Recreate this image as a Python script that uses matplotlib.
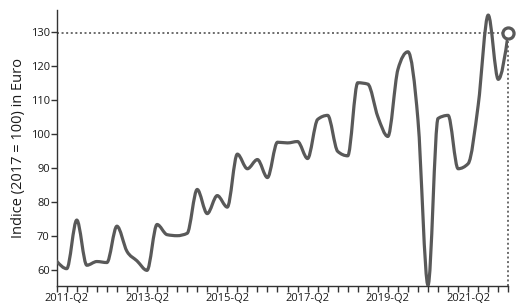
import numpy as np
import matplotlib
matplotlib.use("Agg")
import matplotlib.pyplot as plt
from matplotlib.path import Path
from matplotlib.patches import PathPatch

years = list(range(2011, 2023))
quarters = [f"{y}-Q{q}" for y in years for q in (1, 2, 3, 4)][:46]

values = [62.7, 60.5, 74.8, 61.5, 62.6, 62.3, 73.0, 65.6, 62.8, 60.0,
          73.5, 70.5, 70.2, 70.9, 83.8, 76.7, 82.0, 78.6, 94.2, 89.9,
          92.6, 87.3, 97.7, 97.5, 97.9, 92.9, 104.4, 105.6, 95.0, 93.7,
          115.2, 114.8, 105.2, 99.4, 119.1, 124.3, 104.2, 55.6, 104.7, 105.6,
          89.9, 91.4, 108.6, 135.1, 116.2, 129.8]

ytick_values = [60, 70, 80, 90, 100, 110, 120, 130]
label_every = 8
label_start = 1

LINE = "#595959"
AX = "#333333"
GUIDE = "#444444"
TXT = "#1a1a1a"

plt.rcParams['font.family'] = ['Open Sans', 'DejaVu Sans']

fig = plt.figure(figsize=(5.24, 3.06), dpi=100)
ax = fig.add_axes([56.7/524, 20/306, (508.3-56.7)/524, (286-10)/306])

x = np.arange(len(values), dtype=float)
y = np.array(values, dtype=float)

# monotone-X cubic curve (like d3.curveMonotoneX)
n = len(x)
h = np.diff(x)
s = np.diff(y) / h
t = np.zeros(n)
for i in range(1, n - 1):
    p = (s[i-1]*h[i] + s[i]*h[i-1]) / (h[i-1] + h[i])
    t[i] = (np.sign(s[i-1]) + np.sign(s[i])) * min(abs(s[i-1]), abs(s[i]), 0.5*abs(p))
t[0] = (3*s[0] - t[1]) / 2
t[-1] = (3*s[-1] - t[-2]) / 2
verts = [(x[0], y[0])]
codes = [Path.MOVETO]
for i in range(n - 1):
    dx = (x[i+1] - x[i]) / 3
    verts += [(x[i] + dx, y[i] + dx*t[i]), (x[i+1] - dx, y[i+1] - dx*t[i+1]), (x[i+1], y[i+1])]
    codes += [Path.CURVE4]*3
ax.add_patch(PathPatch(Path(verts, codes), fill=False, edgecolor=LINE, lw=2.3,
                       capstyle='round', joinstyle='round', zorder=3))

ax.set_xlim(0, n - 1)
ax.set_ylim(55.4, 136.6)

# dotted guide lines to last point
ax.plot([0, x[-1]], [y[-1], y[-1]], color=GUIDE, lw=1.1, ls=(0, (1.3, 1.7)), zorder=2, clip_on=False)
ax.plot([x[-1], x[-1]], [ax.get_ylim()[0], y[-1]], color=GUIDE, lw=1.1, ls=(0, (1.3, 1.7)),
        zorder=2, clip_on=False)
ax.plot([x[-1]], [y[-1]], marker='o', ms=8, mfc='white', mec=LINE, mew=2.3, zorder=4, clip_on=False)

ax.set_xticks(x)
ax.set_xticklabels([q if (i - label_start) % label_every == 0 and i >= label_start else ""
                    for i, q in enumerate(quarters)])
ax.set_yticks(ytick_values)
ax.tick_params(axis='x', length=4, width=1, color=AX, labelsize=8, labelcolor=TXT, pad=1)
ax.tick_params(axis='y', length=4, width=1, color=AX, labelsize=8, labelcolor=TXT, pad=1)

for sp in ['top', 'right']:
    ax.spines[sp].set_visible(False)
for sp in ['left', 'bottom']:
    ax.spines[sp].set_color(AX)
    ax.spines[sp].set_linewidth(1)

ax.set_ylabel("Indice (2017 = 100) in Euro", fontsize=10.5, color=TXT, labelpad=3)

fig.savefig("out.png", dpi=100)
